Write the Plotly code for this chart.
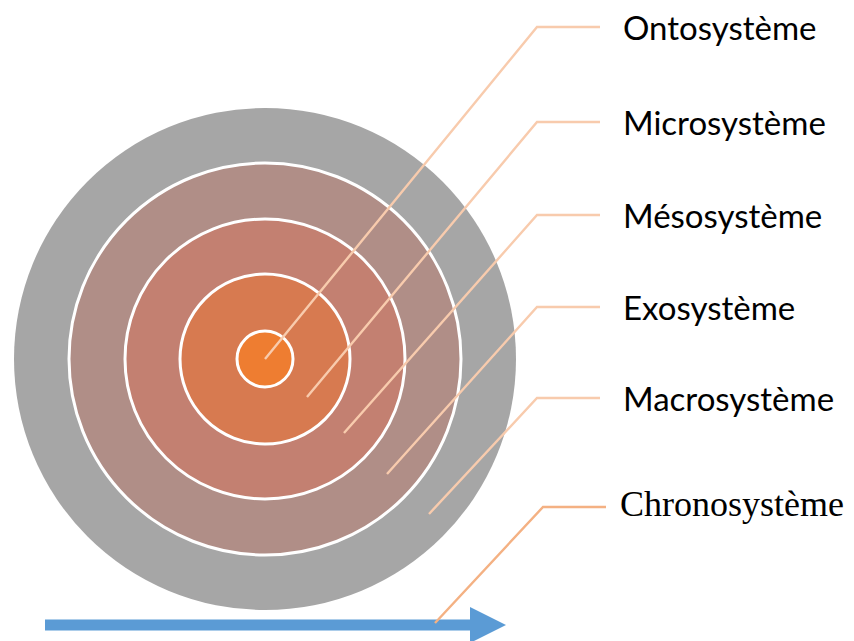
import plotly.graph_objects as go

# ---- data ----
ring_layers = ["Macrosystème", "Exosystème", "Mésosystème", "Microsystème", "Ontosystème"]
ring_radii = [251, 196, 140, 85, 28]
ring_colors = ["#A6A6A6", "#B08E87", "#C38071", "#D77A50", "#EE7D31"]
label_names = ["Ontosystème", "Microsystème", "Mésosystème", "Exosystème", "Macrosystème", "Chronosystème"]
label_y = [27, 122, 215, 307, 398, 507]
leader_end_x = [265, 307, 344, 387, 429, 435]
leader_end_y = [359, 397, 433, 474, 514, 623]

W, H = 854, 641
OFF = 8  # page body margin
cx, cy = 265, 359

fig = go.Figure()

shapes = []
for i, (r, col) in enumerate(zip(ring_radii, ring_colors)):
    shapes.append(dict(type="circle", xref="x", yref="y",
                       x0=cx - r, x1=cx + r, y0=cy - r, y1=cy + r,
                       fillcolor=col,
                       line=dict(color="white" if i > 0 else col, width=3 if i > 0 else 0),
                       layer="below"))

# time arrow
arrow_y = 625
shapes.append(dict(type="rect", xref="x", yref="y", x0=45, x1=472, y0=arrow_y - 5.5, y1=arrow_y + 5.5,
                   fillcolor="#5B9BD5", line=dict(width=0), layer="below"))
shapes.append(dict(type="path", xref="x", yref="y",
                   path=f"M 470 {arrow_y-18} L 506 {arrow_y} L 470 {arrow_y+18} Z",
                   fillcolor="#5B9BD5", line=dict(width=0), layer="below"))

fig.update_layout(shapes=shapes)

# leader lines
for i, name in enumerate(label_names):
    chrono = name == "Chronosystème"
    corner_x = 543 if chrono else 537
    end_h = 606 if chrono else 600
    color = "#F4B183" if chrono else "#F8CBAD"
    fig.add_trace(go.Scatter(
        x=[leader_end_x[i], corner_x, end_h],
        y=[leader_end_y[i], label_y[i], label_y[i]],
        mode="lines", line=dict(color=color, width=2.4),
        hoverinfo="skip", showlegend=False))
    fig.add_annotation(
        x=618 if chrono else 621, y=label_y[i] - (3 if chrono else 0),
        xref="x", yref="y", text=name, showarrow=False,
        xanchor="left", yanchor="middle",
        font=dict(family="Liberation Serif" if chrono else "Lato",
                  size=36 if chrono else 33, color="black"))

fig.update_xaxes(range=[OFF, W], visible=False, fixedrange=True)
fig.update_yaxes(range=[H, OFF], visible=False, fixedrange=True)
fig.update_layout(width=W - OFF, height=H - OFF, margin=dict(l=0, r=0, t=0, b=0),
                  plot_bgcolor="white", paper_bgcolor="white", showlegend=False)

fig.write_html("out.html", config={"displayModeBar": False})
